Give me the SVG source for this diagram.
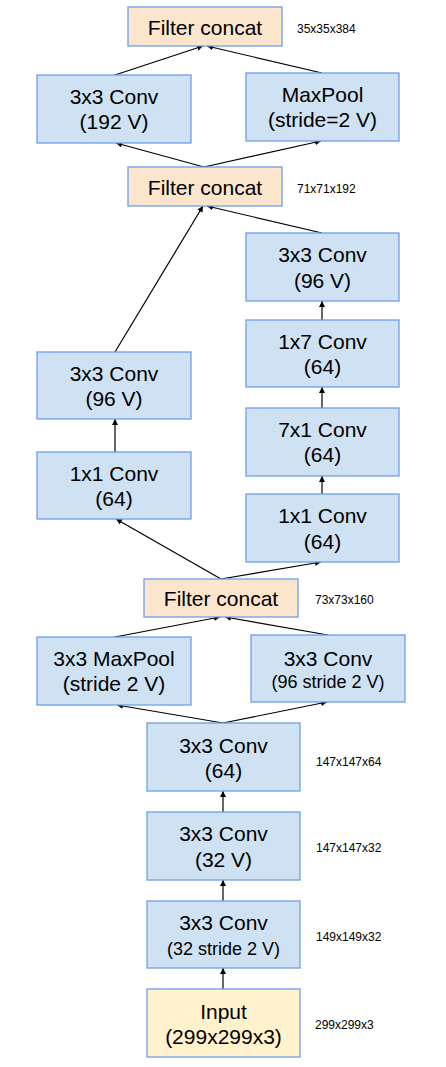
<svg xmlns="http://www.w3.org/2000/svg" width="446" height="1067" viewBox="0 0 446 1067">
<defs>
<style>
.n rect{fill:#cfe2f3;stroke:#6d9eeb;stroke-width:1.3}
.c rect{fill:#fce5cd;stroke:#6d9eeb;stroke-width:1.3}
.i rect{fill:#fff2cc;stroke:#6d9eeb;stroke-width:1.3}
text{font-family:"Liberation Sans",Arial,sans-serif;fill:#000;text-anchor:middle}
.t{font-size:21px}
.s{font-size:18px}
.d{font-size:12px;text-anchor:start}
#edges line{stroke:#000;stroke-width:1.2;marker-end:url(#ah)}
</style>
<marker id="ah" markerUnits="userSpaceOnUse" markerWidth="8" markerHeight="8" refX="6" refY="3" orient="auto">
<path d="M0,0 L6,3 L0,6 z" fill="#000"/>
</marker>
</defs>
<rect width="446" height="1067" fill="#fff"/>
<g id="edges">
<line x1="115" y1="75" x2="203" y2="46"/>
<line x1="322" y1="73" x2="207" y2="46"/>
<line x1="204" y1="167" x2="116" y2="143"/>
<line x1="204" y1="167" x2="321" y2="141"/>
<line x1="115" y1="352" x2="203" y2="206"/>
<line x1="322" y1="233" x2="207" y2="206"/>
<line x1="322" y1="320" x2="322" y2="301"/>
<line x1="322" y1="408" x2="322" y2="387"/>
<line x1="322" y1="494" x2="322" y2="476"/>
<line x1="115" y1="452" x2="115" y2="419"/>
<line x1="221" y1="579" x2="116" y2="519"/>
<line x1="221" y1="579" x2="321" y2="562"/>
<line x1="115" y1="637" x2="220" y2="617"/>
<line x1="328" y1="635" x2="225" y2="617"/>
<line x1="223" y1="723" x2="117" y2="705"/>
<line x1="223" y1="723" x2="327" y2="702"/>
<line x1="223" y1="812" x2="223" y2="791"/>
<line x1="223" y1="901" x2="223" y2="880"/>
<line x1="223" y1="989" x2="223" y2="968"/>
</g>
<g id="concat1" class="c"><rect x="128" y="7" width="154" height="39"/><text class="t" x="205" y="35">Filter concat</text></g>
<text class="d" x="297" y="33">35x35x384</text>
<g id="conv192" class="n"><rect x="37" y="75" width="154" height="68"/><text class="t" x="114" y="104">3x3 Conv</text><text class="t" x="114" y="129">(192 V)</text></g>
<g id="maxpool1" class="n"><rect x="246" y="73" width="153" height="68"/><text class="t" x="322.5" y="102">MaxPool</text><text class="t" x="322.5" y="127">(stride=2 V)</text></g>
<g id="concat2" class="c"><rect x="128" y="167" width="154" height="39"/><text class="t" x="205" y="195">Filter concat</text></g>
<text class="d" x="297" y="193">71x71x192</text>
<g id="conv96r" class="n"><rect x="246" y="233" width="153" height="68"/><text class="t" x="322.5" y="262">3x3 Conv</text><text class="t" x="322.5" y="288">(96 V)</text></g>
<g id="conv1x7" class="n"><rect x="246" y="320" width="153" height="67"/><text class="t" x="322.5" y="349">1x7 Conv</text><text class="t" x="322.5" y="374">(64)</text></g>
<g id="conv7x1" class="n"><rect x="246" y="408" width="153" height="68"/><text class="t" x="322.5" y="437">7x1 Conv</text><text class="t" x="322.5" y="462">(64)</text></g>
<g id="conv1x1r" class="n"><rect x="246" y="494" width="153" height="68"/><text class="t" x="322.5" y="523">1x1 Conv</text><text class="t" x="322.5" y="549">(64)</text></g>
<g id="conv96l" class="n"><rect x="37" y="352" width="154" height="67"/><text class="t" x="114" y="381">3x3 Conv</text><text class="t" x="114" y="406">(96 V)</text></g>
<g id="conv1x1l" class="n"><rect x="37" y="452" width="154" height="67"/><text class="t" x="114" y="481">1x1 Conv</text><text class="t" x="114" y="506">(64)</text></g>
<g id="concat3" class="c"><rect x="144" y="579" width="154" height="38"/><text class="t" x="221" y="606">Filter concat</text></g>
<text class="d" x="315" y="604">73x73x160</text>
<g id="maxpool2" class="n"><rect x="37" y="637" width="154" height="68"/><text class="t" x="114" y="666">3x3 MaxPool</text><text class="t" x="114" y="691">(stride 2 V)</text></g>
<g id="conv96s" class="n"><rect x="251" y="635" width="154" height="67"/><text class="t" x="328" y="666">3x3 Conv</text><text class="s" x="328" y="688">(96 stride 2 V)</text></g>
<g id="conv64" class="n"><rect x="147" y="723" width="153" height="68"/><text class="t" x="223.5" y="753">3x3 Conv</text><text class="t" x="223.5" y="778">(64)</text></g>
<text class="d" x="316" y="766">147x147x64</text>
<g id="conv32" class="n"><rect x="147" y="812" width="153" height="68"/><text class="t" x="223.5" y="841">3x3 Conv</text><text class="t" x="223.5" y="867">(32 V)</text></g>
<text class="d" x="316" y="852">147x147x32</text>
<g id="conv32s" class="n"><rect x="147" y="901" width="153" height="67"/><text class="t" x="223.5" y="930">3x3 Conv</text><text class="s" x="223.5" y="955">(32 stride 2 V)</text></g>
<text class="d" x="316" y="941">149x149x32</text>
<g id="input" class="i"><rect x="147" y="989" width="153" height="68"/><text class="t" x="223.5" y="1019">Input</text><text class="t" x="223.5" y="1044">(299x299x3)</text></g>
<text class="d" x="315" y="1029">299x299x3</text>
</svg>
